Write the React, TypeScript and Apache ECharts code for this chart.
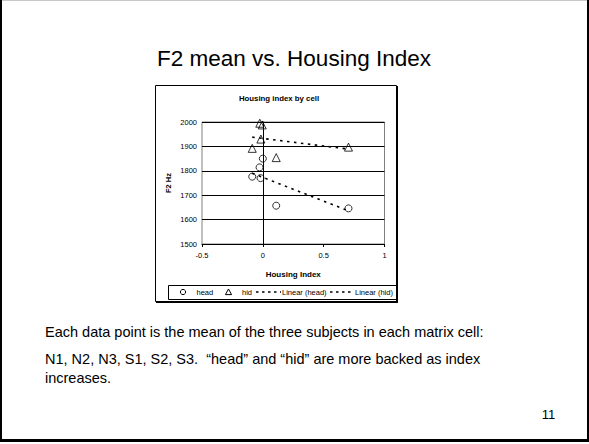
import React, { useEffect, useRef } from "react";
import * as echarts from "echarts";

const FONT = "'Liberation Sans', Arial, Helvetica, sans-serif";

// Data
const headX = [0, -0.027, -0.087, -0.019, 0.11, 0.704];
const headY = [1850, 1814, 1776, 1770, 1657, 1646];
const hidX = [-0.025, -0.005, -0.016, -0.087, 0.11, 0.704];
const hidY = [1995, 1988, 1930, 1892, 1854, 1897];
const trendHeadX = [-0.087, 0.704];
const trendHeadY = [1790, 1636];
const trendHidX = [-0.087, 0.704];
const trendHidY = [1938, 1889];

const xTicks = { min: -0.5, max: 1, interval: 0.5 };
const yTicks = { min: 1500, max: 2000, interval: 100 };

const slideTitle = "F2 mean vs. Housing Index";
const chartTitle = "Housing index by cell";
const xName = "Housing Index";
const yName = "F2 Hz";
const legendNames = ["head", "hid", "Linear (head)", "Linear (hid)"];
const bodyLines = [
  "Each data point is the mean of the three subjects in each matrix cell:",
  "N1, N2, N3, S1, S2, S3.  \u201chead\u201d and \u201chid\u201d are more backed as index",
  "increases.",
];
const pageNumber = "11";

const zip = (xs: number[], ys: number[]) => xs.map((x, i) => [x, ys[i]]);

export default function App() {
  const ref = useRef<HTMLDivElement>(null);
  useEffect(() => {
    document.body.style.margin = "0";
    if (!ref.current) return;
    const chart = echarts.init(ref.current, null, { renderer: "svg" });
    const dash = [2.5, 4.5];
    const legY = 292;
    const small = { fontFamily: FONT, fontSize: 7.5, fill: "#000" };
    chart.setOption({
      animation: false,
      backgroundColor: "#fff",
      grid: {
        left: 202,
        top: 122,
        width: 182.5,
        height: 122,
        show: true,
        borderColor: "#808080",
        borderWidth: 1,
        backgroundColor: "transparent",
      },
      xAxis: {
        type: "value",
        ...xTicks,
        name: xName,
        nameLocation: "middle",
        nameGap: 26,
        nameTextStyle: { fontFamily: FONT, fontSize: 8, fontWeight: "bold", color: "#000" },
        axisLine: { show: true, onZero: false, lineStyle: { color: "#000", width: 1 } },
        axisTick: { show: true, length: 3, lineStyle: { color: "#000" } },
        axisLabel: { fontFamily: FONT, fontSize: 7.5, color: "#000", margin: 7, formatter: (v: number) => String(v) },
        splitLine: { show: false },
      },
      yAxis: {
        type: "value",
        ...yTicks,
        name: yName,
        nameLocation: "middle",
        nameGap: 30,
        nameRotate: 90,
        nameTextStyle: { fontFamily: FONT, fontSize: 7.5, fontWeight: "bold", color: "#000" },
        axisLine: { show: true, lineStyle: { color: "#000", width: 1 } },
        axisTick: { show: true, length: 3, lineStyle: { color: "#000" } },
        axisLabel: { fontFamily: FONT, fontSize: 7.5, color: "#000", margin: 5, formatter: (v: number) => String(v) },
        splitLine: { show: true, lineStyle: { color: "#000", width: 1 } },
      },
      series: [
        {
          name: legendNames[2],
          type: "line",
          data: zip(trendHeadX, trendHeadY),
          symbol: "none",
          lineStyle: { color: "#000", width: 1.6, type: dash },
          z: 2,
        },
        {
          name: legendNames[3],
          type: "line",
          data: zip(trendHidX, trendHidY),
          symbol: "none",
          lineStyle: { color: "#000", width: 1.6, type: dash },
          z: 2,
        },
        {
          name: legendNames[0],
          type: "scatter",
          data: zip(headX, headY),
          symbol: "circle",
          symbolSize: 7,
          itemStyle: { color: "rgba(0,0,0,0)", borderColor: "#000", borderWidth: 1 },
          z: 3,
        },
        {
          name: legendNames[1],
          type: "scatter",
          data: zip(hidX, hidY),
          symbol: "triangle",
          symbolSize: 8,
          itemStyle: { color: "rgba(0,0,0,0)", borderColor: "#000", borderWidth: 1 },
          z: 3,
        },
      ],
      graphic: [
        // slide border
        { type: "rect", shape: { x: 0, y: 0, width: 589, height: 1 }, style: { fill: "#c8c8c8" }, z: 10 },
        { type: "rect", shape: { x: 0, y: 0, width: 2, height: 442 }, style: { fill: "#000" }, z: 10 },
        { type: "rect", shape: { x: 587, y: 0, width: 2, height: 442 }, style: { fill: "#000" }, z: 10 },
        { type: "rect", shape: { x: 0, y: 439, width: 589, height: 3 }, style: { fill: "#000" }, z: 10 },
        // slide title
        {
          type: "text",
          x: 294,
          y: 58,
          style: {
            text: slideTitle,
            fontFamily: FONT,
            fontSize: 22.5,
            fill: "#000",
            textAlign: "center",
            textVerticalAlign: "middle",
          },
        },
        // chart frame
        {
          type: "rect",
          shape: { x: 155.5, y: 85.5, width: 241, height: 216 },
          style: { fill: "none", stroke: "#000", lineWidth: 1 },
          z: 5,
        },
        { type: "rect", shape: { x: 396, y: 86, width: 2, height: 217 }, style: { fill: "#000" }, z: 5 },
        { type: "rect", shape: { x: 156, y: 301, width: 242, height: 2 }, style: { fill: "#000" }, z: 5 },
        {
          type: "text",
          x: 279,
          y: 98.5,
          style: {
            text: chartTitle,
            fontFamily: FONT,
            fontSize: 7.8,
            fontWeight: "bold",
            fill: "#000",
            textAlign: "center",
            textVerticalAlign: "middle",
          },
        },
        // legend box
        {
          type: "rect",
          shape: { x: 168.5, y: 285.5, width: 228, height: 14 },
          style: { fill: "#fff", stroke: "#000", lineWidth: 1 },
          z: 4,
        },
        {
          type: "circle",
          shape: { cx: 183, cy: legY, r: 2.6 },
          style: { fill: "none", stroke: "#000", lineWidth: 1 },
          z: 6,
        },
        { type: "text", x: 196.5, y: legY, style: { ...small, text: legendNames[0], textVerticalAlign: "middle" }, z: 6 },
        {
          type: "polygon",
          shape: { points: [[228.5, legY - 3], [231.6, legY + 2.6], [225.4, legY + 2.6]] },
          style: { fill: "none", stroke: "#000", lineWidth: 1 },
          z: 6,
        },
        { type: "text", x: 242, y: legY, style: { ...small, text: legendNames[1], textVerticalAlign: "middle" }, z: 6 },
        {
          type: "line",
          shape: { x1: 256, y1: legY, x2: 281, y2: legY },
          style: { stroke: "#000", lineWidth: 1.6, lineDash: [2.5, 3.5] },
          z: 6,
        },
        { type: "text", x: 282, y: legY, style: { ...small, text: legendNames[2], textVerticalAlign: "middle" }, z: 6 },
        {
          type: "line",
          shape: { x1: 330, y1: legY, x2: 354, y2: legY },
          style: { stroke: "#000", lineWidth: 1.6, lineDash: [2.5, 3.5] },
          z: 6,
        },
        { type: "text", x: 355, y: legY, style: { ...small, text: legendNames[3], textVerticalAlign: "middle" }, z: 6 },
        // body text
        ...bodyLines.map((t, i) => ({
          type: "text",
          x: 45,
          y: [332, 359, 377.5][i],
          style: { text: t, fontFamily: FONT, fontSize: 14.5, fill: "#000", textVerticalAlign: "middle" },
        })),
        {
          type: "text",
          x: 548.5,
          y: 414,
          style: {
            text: pageNumber,
            fontFamily: FONT,
            fontSize: 13,
            fill: "#000",
            textAlign: "center",
            textVerticalAlign: "middle",
          },
        },
      ],
    });
    return () => chart.dispose();
  }, []);
  return <div ref={ref} style={{ width: 589, height: 444 }} />;
}
